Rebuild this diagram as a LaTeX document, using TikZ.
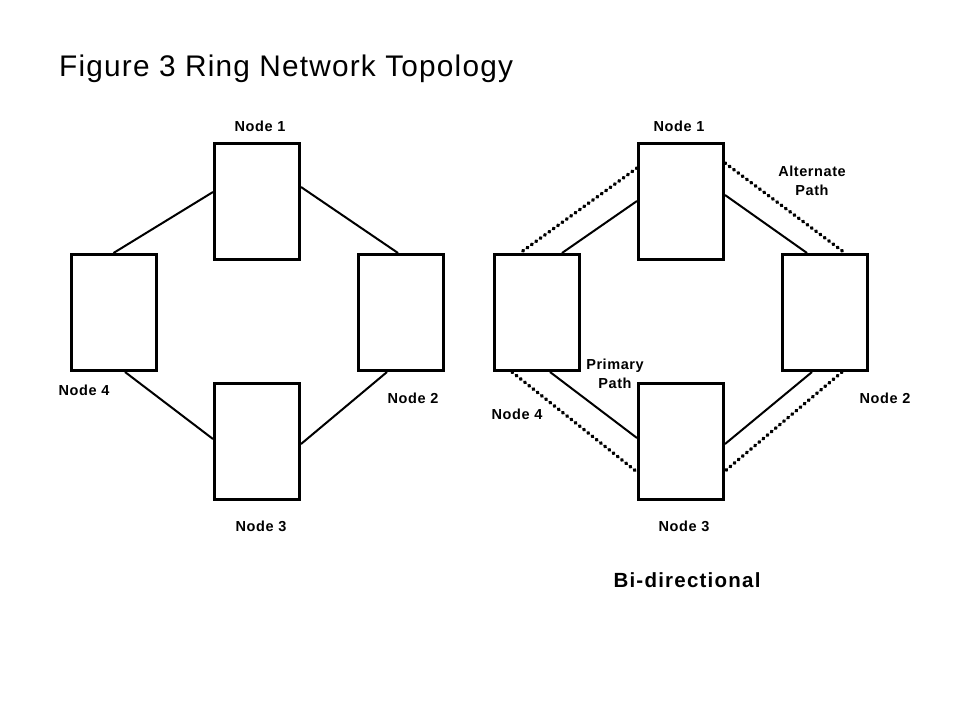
\documentclass[tikz,border=0pt]{standalone}
\usepackage{fontspec}
\setmainfont{Liberation Sans}
\newfontfamily\lblfont[LetterSpace=4]{Liberation Sans Bold}
\newfontfamily\ttlfont[LetterSpace=4]{Liberation Sans}
\newfontfamily\bdfont[LetterSpace=6]{Liberation Sans Bold}
\begin{document}
\begin{tikzpicture}[x=1pt,y=-1pt,
  box/.style={draw,line width=3pt,rectangle,minimum width=85pt,minimum height=116pt,inner sep=0pt,fill=white},
  link/.style={line width=2pt},
  alt/.style={line width=3.6pt,line cap=round,dash pattern=on 0.8pt off 4.6pt},
  lbl/.style={font=\lblfont\fontsize{14.5}{19}\selectfont,inner sep=0pt,anchor=base,align=center}]
\useasboundingbox (0,0) rectangle (960,720);
\fill[white] (0,0) rectangle (960,720);
\node[anchor=base west,inner sep=0pt,font=\ttlfont\fontsize{29.8}{34}\selectfont] (title) at (59,76) {Figure 3 Ring Network Topology};
% left ring
\node[box] (n1) at (257,201) {};
\node[box] (n4) at (113.5,312.5) {};
\node[box] (n2) at (400.5,312.5) {};
\node[box] (n3) at (257,441) {};
\draw[link] ([yshift=9pt]n1.west) -- (n4.north);
\draw[link] ([yshift=14pt]n1.east) -- ([xshift=-2.5pt]n2.north);
\draw[link] ([xshift=11.5pt]n4.south) -- ([yshift=2pt]n3.west);
\draw[link] ([xshift=-13.5pt]n2.south) -- ([yshift=-3pt]n3.east);
\node[lbl] (l1) at (260,131) {Node 1};
\node[lbl] (l4) at (84,395) {Node 4};
\node[lbl] (l2) at (413,403) {Node 2};
\node[lbl] (l3) at (261,531) {Node 3};
% right ring
\node[box] (m1) at (681,201) {};
\node[box] (m4) at (537,312.5) {};
\node[box] (m2) at (825,312.5) {};
\node[box] (m3) at (681,441) {};
\draw[link] (m1.west) -- ([xshift=25pt]m4.north);
\draw[link] ([yshift=6pt]m1.east) -- ([xshift=-18pt]m2.north);
\draw[link] ([xshift=13pt]m4.south) -- ([yshift=3pt]m3.west);
\draw[link] ([xshift=-13pt]m2.south) -- ([yshift=-3pt]m3.east);
\draw[alt] ([yshift=33pt]m1.west) -- ([xshift=-17pt]m4.north);
\draw[alt] ([yshift=38pt]m1.east) -- ([xshift=20pt]m2.north);
\draw[alt] ([xshift=-25pt]m4.south) -- ([yshift=-31pt]m3.west);
\draw[alt] ([xshift=17pt]m2.south) -- ([yshift=-30pt]m3.east);
\node[lbl] (r1) at (679,131) {Node 1};
\node[lbl] (r4) at (517,419) {Node 4};
\node[lbl] (r2) at (885,403) {Node 2};
\node[lbl] (r3) at (684,531) {Node 3};
\node[lbl,anchor=north] (altp) at (812,166) {Alternate\\Path};
\node[lbl,anchor=north] (prim) at (615,359) {Primary\\Path};
\node[anchor=base,inner sep=0pt,font=\bdfont\fontsize{20.5}{24}\selectfont] (bidir) at (687,587) {Bi-directional};
\end{tikzpicture}
\end{document}
